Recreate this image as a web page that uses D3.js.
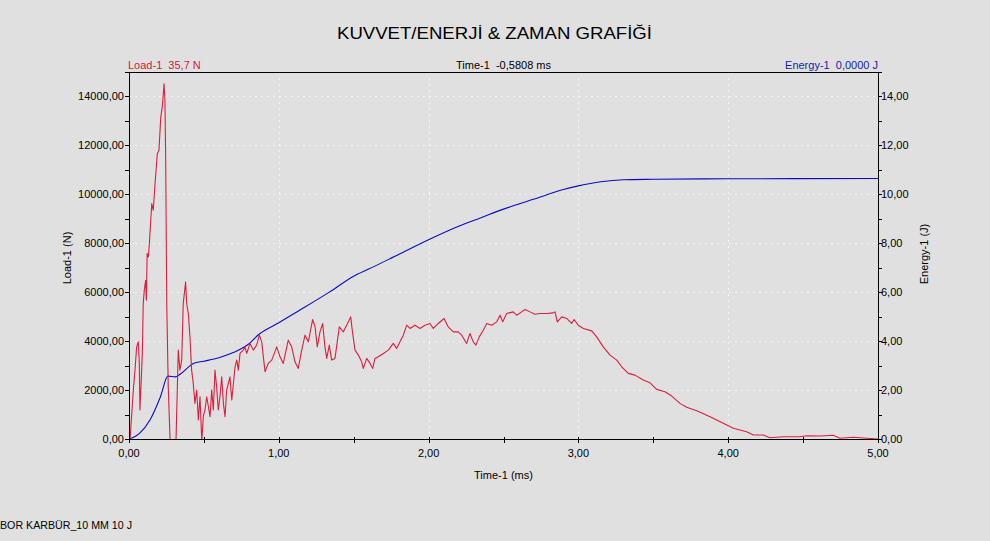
<!DOCTYPE html>
<html>
<head>
<meta charset="utf-8">
<script src="https://cdn.jsdelivr.net/npm/d3@7"></script>
<style>
  html, body { margin: 0; padding: 0; background: #e0e0e0; }
  svg { display: block; }
  text { font-family: "Liberation Sans", Arial, sans-serif; white-space: pre; }
</style>
</head>
<body>
<svg id="chart" width="990" height="541"></svg>
<script>
// ---------------- DATA ----------------
const chartTitle = "KUVVET/ENERJİ & ZAMAN GRAFİĞİ";
const footerText = "BOR KARBÜR_10 MM 10 J";
const loadHeader = "Load-1  35,7 N";
const timeHeader = "Time-1  -0,5808 ms";
const energyHeader = "Energy-1  0,0000 J";
const xAxisTitle = "Time-1 (ms)";
const yLeftTitle = "Load-1 (N)";
const yRightTitle = "Energy-1 (J)";

const xTicks = [0, 1, 2, 3, 4, 5];
const xMinorTicks = [0, 0.5, 1, 1.5, 2, 2.5, 3, 3.5, 4, 4.5, 5];
const loadTicks = [0, 2000, 4000, 6000, 8000, 10000, 12000, 14000];
const loadMinorTicks = [0, 1000, 2000, 3000, 4000, 5000, 6000, 7000, 8000, 9000, 10000, 11000, 12000, 13000, 14000, 15000];
const energyTicks = [0, 2, 4, 6, 8, 10, 12, 14];
const energyMinorTicks = [0, 1, 2, 3, 4, 5, 6, 7, 8, 9, 10, 11, 12, 13, 14, 15];

// Load-1 (N) vs Time-1 (ms)
const loadTime = [
  0, 0.007, 0.029, 0.040, 0.051, 0.062, 0.069, 0.073, 0.080, 0.089, 0.095, 0.102, 0.111, 0.116, 0.121, 0.129, 0.136,
  0.152, 0.162, 0.174, 0.189, 0.200, 0.212, 0.222, 0.234, 0.240, 0.245, 0.252, 0.262, 0.274, 0.285, 0.305, 0.314,
  0.329, 0.340, 0.352, 0.362, 0.378, 0.385, 0.396, 0.407, 0.418, 0.429, 0.440, 0.452, 0.463, 0.474, 0.486,
  0.496, 0.507, 0.519, 0.541, 0.552, 0.563, 0.574, 0.585, 0.596, 0.607, 0.619, 0.630, 0.641, 0.652, 0.674,
  0.686, 0.708, 0.719, 0.730, 0.741, 0.763, 0.774, 0.786, 0.808, 0.830, 0.852, 0.870, 0.886, 0.897, 0.908,
  0.930, 0.953, 0.986, 1.008, 1.030, 1.063, 1.086, 1.108, 1.130, 1.153, 1.175, 1.197, 1.226, 1.242, 1.257,
  1.275, 1.293, 1.308, 1.320, 1.337, 1.353, 1.375, 1.404, 1.431, 1.453, 1.480, 1.493, 1.509, 1.531, 1.553,
  1.564, 1.587, 1.609, 1.627, 1.642, 1.664, 1.698, 1.731, 1.764, 1.787, 1.809, 1.831, 1.854, 1.876, 1.909,
  1.943, 1.976, 2.009, 2.031, 2.065, 2.103, 2.131, 2.165, 2.198, 2.221, 2.254, 2.276, 2.298, 2.316, 2.338,
  2.365, 2.388, 2.421, 2.455, 2.477, 2.495, 2.521, 2.565, 2.588, 2.621, 2.644, 2.677, 2.710, 2.744, 2.788,
  2.832, 2.844, 2.859, 2.889, 2.922, 2.955, 2.971, 2.999, 3.033, 3.089, 3.122, 3.166, 3.211, 3.256, 3.289,
  3.333, 3.378, 3.433, 3.478, 3.523, 3.578, 3.623, 3.678, 3.723, 3.790, 3.879, 3.967, 4.034, 4.123, 4.168,
  4.234, 4.279, 4.368, 4.479, 4.524, 4.613, 4.702, 4.746, 4.835, 4.924, 5.000
];
const loadValues = [
  0, 0, 2010, 2826, 3776, 3980, 3100, 1195, 2145, 3507, 5546, 6088, 6496, 5680, 7585, 7447, 7993,
  9624, 9351, 10440, 11663, 11798, 13155, 13563, 14518, 13837, 11390, 5546, 2145, 0, -1500, -1500, 0,
  3642, 2826, 3234, 5546, 6427, 5546, 5138, 4184, 2826, 2284, 1468, 2010, 787, 1737, -100,
  922, 1195, 1737, 922, 2010, 1195, 2826, 2145, 1195, 1737, 2553, 1468, 922, 2010, 2553,
  1603, 2961, 3234, 2826, 3507, 3642, 3776, 3507, 3915, 3642, 3846, 4253, 3980, 3368, 2757,
  3099, 3234, 3776, 3368, 3099, 4049, 3776, 3164, 2895, 3642, 4253, 3980, 4894, 4592, 3776,
  4388, 4730, 3776, 3303, 3846, 3234, 3303, 4592, 4388, 4661, 5000, 4323, 3642, 3438, 3164,
  2895, 3303, 3099, 2895, 3303, 3368, 3507, 3642, 3915, 3711, 3980, 4253, 4661, 4526, 4661,
  4526, 4661, 4730, 4526, 4730, 4934, 4592, 4388, 4388, 4253, 3915, 4323, 3980, 3846, 4184,
  4457, 4730, 4661, 4796, 5069, 4796, 5138, 5204, 5069, 5204, 5301, 5204, 5110, 5138, 5138,
  5163, 5204, 4796, 5000, 4934, 4730, 4894, 4661, 4526, 4429, 4184, 3776, 3438, 3234, 2961,
  2691, 2622, 2418, 2308, 2039, 1941, 1766, 1468, 1305, 1166, 922, 652, 449, 310, 175,
  175, 65, 106, 106, 147, 135, 163, 41, 82, 41, 12
];

// Energy-1 (J) vs Time-1 (ms)
const energyTime = [0, 0.07, 0.14, 0.21, 0.26, 0.31, 0.35, 0.43, 0.50, 0.60, 0.70, 0.79, 0.87, 1.00, 1.12, 1.34, 1.50, 1.60, 1.80, 2.00, 2.20, 2.35, 2.50, 2.70, 2.90, 3.00, 3.15, 3.30, 3.50, 4.00, 5.00];
const energyValues = [0, 0.24, 0.79, 1.74, 2.58, 2.55, 2.70, 3.10, 3.19, 3.33, 3.55, 3.85, 4.30, 4.76, 5.20, 6.02, 6.66, 6.95, 7.55, 8.15, 8.70, 9.05, 9.40, 9.80, 10.20, 10.35, 10.52, 10.60, 10.62, 10.64, 10.65];

// ---------------- CHART ----------------
const svg = d3.select("#chart");
const W = 990, H = 541;
const m = { left: 129, right: 878, top: 72, bottom: 439.3 };

svg.append("rect").attr("width", W).attr("height", H).attr("fill", "#e0e0e0");

const x = d3.scaleLinear().domain([0, 5]).range([m.left, m.right]);
const yL = d3.scaleLinear().domain([0, 15000]).range([m.bottom, m.top]);
const yR = d3.scaleLinear().domain([0, 15]).range([m.bottom, m.top]);

const fmt = v => d3.format(".2f")(v).replace(".", ",");

// grid (white dotted)
const grid = svg.append("g");
grid.selectAll("line.gy").data(loadTicks.filter(d => d > 0)).join("line")
  .attr("x1", m.left).attr("x2", m.right)
  .attr("y1", d => Math.round(yL(d)) + 0.5).attr("y2", d => Math.round(yL(d)) + 0.5)
  .attr("stroke", "#f4f4f4").attr("stroke-dasharray", "2,4");
grid.selectAll("line.gx").data(xTicks.filter(d => d > 0 && d < 5)).join("line")
  .attr("y1", m.top).attr("y2", m.bottom)
  .attr("x1", d => Math.round(x(d)) + 0.5).attr("x2", d => Math.round(x(d)) + 0.5)
  .attr("stroke", "#f4f4f4").attr("stroke-dasharray", "2,4");

// clip
svg.append("clipPath").attr("id", "plotclip").append("rect")
  .attr("x", m.left).attr("y", m.top).attr("width", m.right - m.left).attr("height", m.bottom - m.top);

const loadData = loadTime.map((t, i) => [t, loadValues[i]]);
const energyData = energyTime.map((t, i) => [t, energyValues[i]]);

svg.append("path").datum(energyData)
  .attr("clip-path", "url(#plotclip)")
  .attr("fill", "none").attr("stroke", "#0a0ac8").attr("stroke-width", 1.1)
  .attr("d", d3.line().x(d => x(d[0])).y(d => yR(d[1])).curve(d3.curveMonotoneX));

svg.append("path").datum(loadData)
  .attr("clip-path", "url(#plotclip)")
  .attr("fill", "none").attr("stroke", "#dc1e3c").attr("stroke-width", 1.1)
  .attr("stroke-linejoin", "round")
  .attr("d", d3.line().x(d => x(d[0])).y(d => yL(d[1])));

// axes lines / frame
const ax = svg.append("g").attr("stroke", "#000").attr("stroke-width", 1);
ax.append("line").attr("x1", m.left - 0.5).attr("x2", m.right + 0.5).attr("y1", m.top + 0.5).attr("y2", m.top + 0.5);
ax.append("line").attr("x1", m.left - 0.5).attr("x2", m.right + 0.5).attr("y1", 439.5).attr("y2", 439.5);
ax.append("line").attr("x1", m.left + 0.5).attr("x2", m.left + 0.5).attr("y1", m.top).attr("y2", 440);
ax.append("line").attr("x1", m.right + 0.5).attr("x2", m.right + 0.5).attr("y1", m.top).attr("y2", 440);

// ticks
ax.selectAll("line.lt").data(loadMinorTicks).join("line")
  .attr("x1", m.left - 4).attr("x2", m.left + 1)
  .attr("y1", d => Math.round(yL(d)) + 0.5).attr("y2", d => Math.round(yL(d)) + 0.5);
ax.selectAll("line.rt").data(energyMinorTicks).join("line")
  .attr("x1", m.right).attr("x2", m.right + 4)
  .attr("y1", d => Math.round(yR(d)) + 0.5).attr("y2", d => Math.round(yR(d)) + 0.5);
ax.selectAll("line.xt").data(xMinorTicks).join("line")
  .attr("y1", 437).attr("y2", 443)
  .attr("x1", d => Math.round(x(d)) + 0.5).attr("x2", d => Math.round(x(d)) + 0.5);

// tick labels
const lbl = svg.append("g").attr("font-size", 11).attr("fill", "#000");
lbl.selectAll("text.ll").data(loadTicks).join("text")
  .attr("x", 124).attr("y", d => yL(d) + 4)
  .attr("text-anchor", "end").text(d => fmt(d));
lbl.selectAll("text.rl").data(energyTicks).join("text")
  .attr("x", 881).attr("y", d => yR(d) + 4)
  .attr("text-anchor", "start").text(d => fmt(d));
lbl.selectAll("text.xl").data(xTicks).join("text")
  .attr("x", d => x(d)).attr("y", 457)
  .attr("text-anchor", "middle").text(d => fmt(d));

// axis titles
lbl.append("text").attr("x", (m.left + m.right) / 2).attr("y", 479).attr("text-anchor", "middle").text(xAxisTitle);
lbl.append("text").attr("transform", "translate(71,258) rotate(-90)").attr("text-anchor", "middle").text(yLeftTitle);
lbl.append("text").attr("transform", "translate(928,254) rotate(-90)").attr("text-anchor", "middle").text(yRightTitle);

// headers
svg.append("text").attr("x", 128).attr("y", 69).attr("font-size", 11).attr("fill", "#d0203c").text(loadHeader);
svg.append("text").attr("x", (m.left + m.right) / 2).attr("y", 69).attr("font-size", 11).attr("fill", "#000").attr("text-anchor", "middle").text(timeHeader);
svg.append("text").attr("x", 878).attr("y", 69).attr("font-size", 11).attr("fill", "#1a1aa8").attr("text-anchor", "end").text(energyHeader);

// title
svg.append("text").attr("x", 337).attr("y", 38.5).attr("font-size", 17)
  .attr("textLength", 315).attr("lengthAdjust", "spacingAndGlyphs")
  .attr("fill", "#000").text(chartTitle);

// footer
svg.append("text").attr("x", 0).attr("y", 529).attr("font-size", 11)
  .attr("textLength", 132).attr("lengthAdjust", "spacingAndGlyphs")
  .attr("fill", "#000").text(footerText);
</script>
</body>
</html>
